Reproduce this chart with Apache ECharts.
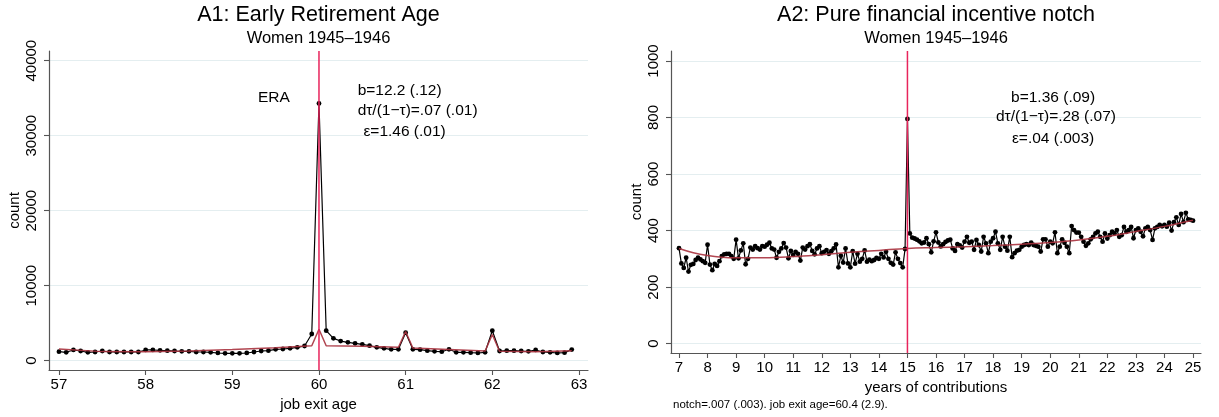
<!DOCTYPE html>
<html><head><meta charset="utf-8">
<script src="https://cdn.jsdelivr.net/npm/echarts@6/dist/echarts.min.js"></script>
<style>html,body{margin:0;padding:0;background:#fff}#c{width:1219px;height:417px}</style>
</head><body><div id="c"></div>
<script>
const FONT = '"Liberation Sans", Arial, Helvetica, sans-serif';

// ---------- Panel A1: Early Retirement Age ----------
const a1Start = 57;                 // first monthly bin (job exit age)
const a1Counts = [
  1200, 1120, 1430, 1290, 1120, 1160, 1290, 1160, 1160, 1160, 1160, 1160,
  1430, 1430, 1380, 1340, 1290, 1250, 1250, 1160, 1160, 1120, 1030, 980,
  980, 980, 1030, 1160, 1290, 1340, 1520, 1560, 1650, 1780, 1960, 3560,
  34300, 4000, 2980, 2620, 2450, 2320, 2180, 2000, 1780, 1650, 1520, 1520,
  3740, 1520, 1470, 1340, 1250, 1200, 1520, 1120, 1120, 1070, 1030, 1120,
  4000, 1290, 1340, 1340, 1290, 1250, 1430, 1160, 1120, 1030, 1070, 1480
];
const a1FitX = [57, 57.5, 58, 58.5, 59, 59.5, 59.917, 60, 60.083, 60.5, 60.917, 61, 61.083, 61.5, 61.917, 62, 62.083, 62.5, 62.917];
const a1FitY = [1550, 1210, 1180, 1280, 1480, 1730, 2000, 4200, 2000, 1940, 1800, 3900, 1700, 1500, 1300, 3500, 1260, 1200, 1330];
const a1XTicks = [57, 58, 59, 60, 61, 62, 63];
const a1YTicks = [0, 10000, 20000, 30000, 40000];
const a1Notch = 60;
const a1XRange = [56.885, 63.104];
const a1YRange = [-1240, 41293];

// ---------- Panel A2: Pure financial incentive notch ----------
const a2Start = 7;                  // first monthly bin (years of contributions)
const a2Counts = [
  338, 284, 268, 304, 255, 279, 282, 296, 304, 298, 292, 286,
  350, 280, 260, 282, 275, 292, 310, 316, 318, 318, 310, 300,
  368, 302, 330, 355, 281, 300, 340, 333, 345, 338, 333, 345,
  343, 350, 357, 337, 333, 304, 325, 337, 356, 340, 302, 328,
  314, 325, 318, 294, 340, 333, 345, 352, 328, 316, 337, 345,
  320, 325, 331, 318, 327, 337, 351, 270, 311, 287, 337, 284,
  270, 327, 283, 318, 290, 300, 330, 290, 297, 292, 296, 303,
  300, 318, 305, 325, 300, 286, 280, 323, 300, 285, 270, 335,
  795, 390, 375, 372, 368, 362, 355, 358, 373, 352, 323, 362,
  394, 358, 344, 352, 360, 365, 368, 337, 328, 352, 348, 340,
  361, 378, 357, 361, 332, 367, 349, 326, 378, 355, 320, 361,
  373, 396, 355, 332, 378, 343, 329, 378, 306, 320, 329, 332,
  343, 349, 352, 349, 357, 349, 346, 343, 326, 369, 369, 343,
  361, 355, 394, 320, 343, 369, 357, 343, 320, 416, 402, 393,
  393, 378, 361, 346, 355, 369, 378, 390, 396, 378, 361, 390,
  372, 384, 396, 390, 402, 378, 384, 413, 396, 402, 413, 373,
  402, 408, 396, 380, 408, 413, 402, 367, 408, 413, 420, 415,
  420, 414, 428, 400, 430, 447, 420, 459, 430, 463, 440, 438,
  435
];
const a2FitX = [7, 7.5, 8, 8.5, 9, 10, 11, 12, 13, 14, 15, 16, 17, 18, 19, 20, 21, 22, 23, 24, 25];
const a2FitY = [337, 322, 312, 306, 304, 304, 308, 315, 323, 330, 337, 340, 343, 347, 352, 358, 367, 380, 397, 415, 437];
const a2XTicks = [7, 8, 9, 10, 11, 12, 13, 14, 15, 16, 17, 18, 19, 20, 21, 22, 23, 24, 25];
const a2YTicks = [0, 200, 400, 600, 800, 1000];
const a2Notch = 15;
const a2XRange = [6.72, 25.28];
const a2YRange = [-33, 1035.4];

// annotations (text anchored in data coordinates)
const a1Notes = [
  { x: 59.48, y: 35030, t: 'ERA', align: 'center' },
  { x: 60.446, y: 35960, t: 'b=12.2 (.12)', align: 'left' },
  { x: 60.446, y: 33290, t: 'dτ/(1−τ)=.07 (.01)', align: 'left' },
  { x: 60.513, y: 30490, t: 'ε=1.46 (.01)', align: 'left' }
];
const a2Notes = [
  { x: 20.1, y: 869, t: 'b=1.36 (.09)', align: 'center' },
  { x: 20.2, y: 802, t: 'dτ/(1−τ)=.28 (.07)', align: 'center' },
  { x: 20.1, y: 724, t: 'ε=.04 (.003)', align: 'center' }
];

// ---------- helpers ----------
const monthly = (start, arr) => arr.map((v, i) => [start + i / 12, v]);
const pairs = (xs, ys) => xs.map((x, i) => [x, ys[i]]);
const AXIS = '#555';
const NOTCH_RED = '#e8245c';
const txt = (size) => ({ fontFamily: FONT, fontSize: size, color: '#000' });
const plain = (v) => String(v);

function xAx(gi, range, ticks, name) {
  return {
    type: 'value', gridIndex: gi, min: range[0], max: range[1], name, nameLocation: 'middle', nameGap: 24,
    nameTextStyle: txt(15),
    axisLine: { show: true, onZero: false, lineStyle: { color: AXIS, width: 1.2 } },
    axisTick: { show: true, length: 5, customValues: ticks, lineStyle: { color: AXIS, width: 1.1 } },
    axisLabel: { customValues: ticks, margin: 7, formatter: plain, ...txt(15) },
    splitLine: { show: false }
  };
}
function yAx(gi, range, ticks) {
  return {
    type: 'value', gridIndex: gi, min: range[0], max: range[1], name: 'count', nameLocation: 'middle', nameGap: 27,
    nameTextStyle: txt(15),
    axisLine: { show: true, onZero: false, lineStyle: { color: AXIS, width: 1.2 } },
    axisTick: { show: true, length: 5, customValues: ticks, lineStyle: { color: AXIS, width: 1.1 } },
    axisLabel: { customValues: ticks, rotate: 90, margin: 10, formatter: plain, ...txt(15) },
    splitLine: { show: true, lineStyle: { color: '#e4eef0', width: 1.2 } }
  };
}
function dataSeries(gi, data) {
  return {
    type: 'line', xAxisIndex: gi, yAxisIndex: gi, data, z: 3,
    symbol: 'circle', symbolSize: 4.8, showSymbol: true,
    itemStyle: { color: '#000' }, lineStyle: { color: '#000', width: 1.2 }
  };
}
function notchSeries(gi, notch, yRange) {
  return {
    type: 'line', xAxisIndex: gi, yAxisIndex: gi, z: 6, silent: true,
    data: [[notch, yRange[0]], [notch, yRange[1]]],
    symbol: 'none', itemStyle: { color: NOTCH_RED },
    lineStyle: { color: NOTCH_RED, width: 1.5, opacity: 1 }
  };
}
function fitSeries(gi, data, smooth) {
  return {
    type: 'line', xAxisIndex: gi, yAxisIndex: gi, data, z: 4, smooth,
    symbol: 'none', lineStyle: { color: '#a8323e', width: 1.5, opacity: 0.9 }
  };
}

const chart = echarts.init(document.getElementById('c'), null, { renderer: 'canvas' });
chart.setOption({
  animation: false,
  backgroundColor: '#fff',
  title: [
    { text: 'A1: Early Retirement Age', left: 318.5, top: 4, padding: 0, textAlign: 'center', textStyle: { ...txt(21.5), fontWeight: 'normal' } },
    { text: 'Women 1945–1946', left: 318.5, top: 30, padding: 0, textAlign: 'center', textStyle: { ...txt(16.5), fontWeight: 'normal' } },
    { text: 'A2: Pure financial incentive notch', left: 936, top: 4, padding: 0, textAlign: 'center', textStyle: { ...txt(21.5), fontWeight: 'normal' } },
    { text: 'Women 1945–1946', left: 936, top: 30, padding: 0, textAlign: 'center', textStyle: { ...txt(16.5), fontWeight: 'normal' } },
    { text: 'notch=.007 (.003). job exit age=60.4 (2.9).', left: 673, top: 399, padding: 0, textStyle: { ...txt(11.5), fontWeight: 'normal' } }
  ],
  grid: [
    { left: 49, top: 51, width: 539, height: 319, outerBoundsMode: 'none', containLabel: false },
    { left: 671, top: 51, width: 530, height: 302, outerBoundsMode: 'none', containLabel: false }
  ],
  xAxis: [
    xAx(0, a1XRange, a1XTicks, 'job exit age'),
    xAx(1, a2XRange, a2XTicks, 'years of contributions')
  ],
  yAxis: [
    yAx(0, a1YRange, a1YTicks),
    yAx(1, a2YRange, a2YTicks)
  ],
  series: [
    dataSeries(0, monthly(a1Start, a1Counts)),
    fitSeries(0, pairs(a1FitX, a1FitY), false),
    notchSeries(0, a1Notch, a1YRange),
    dataSeries(1, monthly(a2Start, a2Counts)),
    fitSeries(1, pairs(a2FitX, a2FitY), 0.4),
    notchSeries(1, a2Notch, a2YRange)
  ]
});

// place annotation texts via the chart's own coordinate conversion
const notes = [];
[[0, a1Notes], [1, a2Notes]].forEach(([gi, list]) => {
  list.forEach(n => {
    const p = chart.convertToPixel({ gridIndex: gi }, [n.x, n.y]);
    notes.push({
      type: 'text', x: p[0], y: p[1], z: 10, silent: true,
      style: { text: n.t, fill: '#000', font: '15.5px ' + FONT, align: n.align, verticalAlign: 'middle' }
    });
  });
});
chart.setOption({ graphic: notes });
</script>
</body></html>
